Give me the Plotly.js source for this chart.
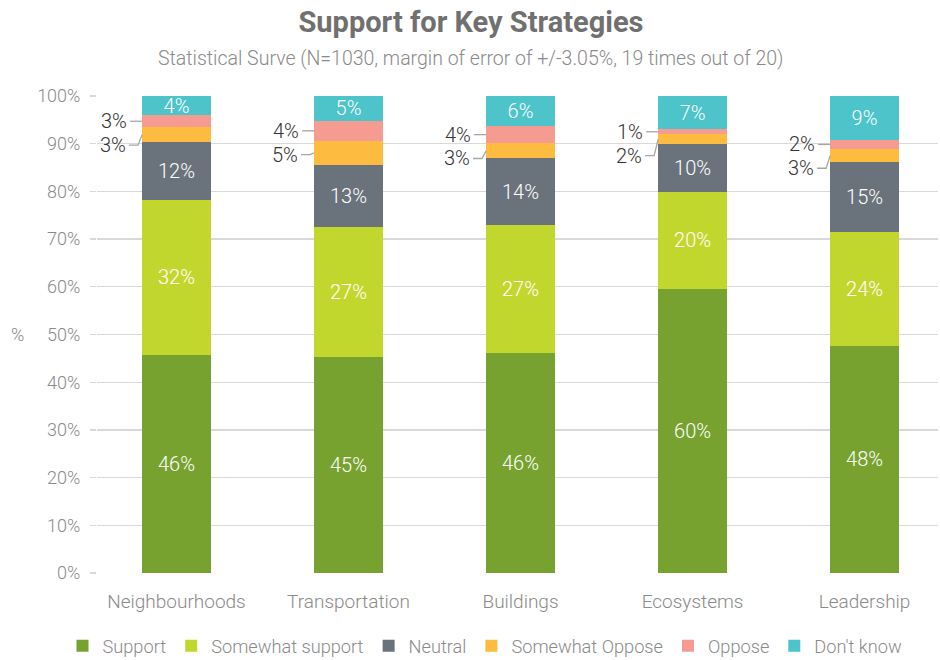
<!DOCTYPE html>
<html>
<head>
<meta charset="utf-8">
<script src="https://cdn.plot.ly/plotly-3.0.1.min.js"></script>
<style>html,body{margin:0;padding:0;background:#fff;}#chart{width:940px;height:660px;}</style>
</head>
<body>
<div id="chart"></div>
<script>
const categories = ['Neighbourhoods', 'Transportation', 'Buildings', 'Ecosystems', 'Leadership'];
const seriesNames = ['Support', 'Somewhat support', 'Neutral', 'Somewhat Oppose', 'Oppose', "Don't know"];
const support = [45.8, 45.3, 46.1, 59.6, 47.6];
const somewhatSupport = [32.4, 27.2, 26.9, 20.3, 23.9];
const neutral = [12.2, 13.1, 13.9, 10.0, 14.6];
const somewhatOppose = [3.0, 5.0, 3.2, 2.1, 2.8];
const oppose = [2.6, 4.2, 3.6, 1.0, 1.9];
const dontKnow = [4.0, 5.2, 6.3, 7.0, 9.2];
const yTickVals = [0, 10, 20, 30, 40, 50, 60, 70, 80, 90, 100];
const yTickText = ['0%', '10%', '20%', '30%', '40%', '50%', '60%', '70%', '80%', '90%', '100%'];

const colors = ['#78a22f', '#c2d72e', '#6a737b', '#fdbb3f', '#f59b91', '#4dc3ca'];
const seriesValues = [support, somewhatSupport, neutral, somewhatOppose, oppose, dontKnow];
const outsideLabelled = [false, false, false, true, true, false];

const FONT = 'Roboto, "Liberation Sans", Arial, sans-serif';
const xIdx = categories.map((c, i) => i);
const halfBar = 0.2;

const traces = seriesValues.map((vals, s) => ({
  type: 'bar',
  name: seriesNames[s],
  x: xIdx,
  y: vals,
  marker: {color: colors[s], line: {width: 0}},
  texttemplate: outsideLabelled[s] ? '' : '%{y:.0f}%',
  textposition: outsideLabelled[s] ? 'none' : 'inside',
  insidetextanchor: 'middle',
  textangle: 0,
  insidetextfont: {color: '#ffffff', size: 20, family: FONT, weight: 300},
  hoverinfo: 'name+y'
}));

// leader-line labels for the two small segments
const annotations = [];
const shapes = [];
const lineColor = '#a6a6a6';
categories.forEach((c, i) => {
  const base = support[i] + somewhatSupport[i] + neutral[i];
  const soMid = base + somewhatOppose[i] / 2;
  const opMid = base + somewhatOppose[i] + oppose[i] / 2;
  const soLabelY = Math.min(soMid, opMid - 5.0);
  const left = i - halfBar;
  annotations.push({
    x: left, y: opMid, xref: 'x', yref: 'y', xanchor: 'right', yanchor: 'middle',
    xshift: -13, showarrow: false, text: Math.round(oppose[i]) + '%',
    font: {color: '#333333', size: 20, family: FONT, weight: 300}
  });
  annotations.push({
    x: left, y: soLabelY, xref: 'x', yref: 'y', xanchor: 'right', yanchor: 'middle',
    xshift: -14, showarrow: false, text: Math.round(somewhatOppose[i]) + '%',
    font: {color: '#333333', size: 20, family: FONT, weight: 300}
  });
  shapes.push({
    type: 'path', xref: 'x', yref: 'y', xsizemode: 'pixel', xanchor: left,
    path: 'M-12,' + opMid + ' L0,' + opMid,
    line: {color: lineColor, width: 1.3}
  });
  shapes.push({
    type: 'path', xref: 'x', yref: 'y', xsizemode: 'pixel', xanchor: left,
    path: 'M-13,' + soLabelY + ' L-4,' + soLabelY + ' L0,' + soMid,
    line: {color: lineColor, width: 1.3}
  });
});

annotations.push({
  xref: 'paper', yref: 'paper', x: 0.4447, y: 1.0776, xanchor: 'center', yanchor: 'middle',
  showarrow: false, text: 'Statistical Surve (N=1030, margin of error of +/-3.05%, 19 times out of 20)',
  font: {color: '#8a8a8a', size: 19.5, family: FONT, weight: 300}
});
annotations.push({
  xref: 'paper', yref: 'paper', x: -0.0951, y: 0.5, xanchor: 'center', yanchor: 'middle',
  showarrow: false, text: '%',
  font: {color: '#8a8a8a', size: 18, family: FONT, weight: 300}
});

const layout = {
  width: 940, height: 660,
  margin: {l: 97, r: 2, t: 96, b: 87},
  paper_bgcolor: '#ffffff', plot_bgcolor: '#ffffff',
  barmode: 'stack', bargap: 0.6,
  font: {family: FONT, color: '#8a8a8a', weight: 300},
  title: {
    text: '<b>Support for Key Strategies</b>',
    font: {size: 29, color: '#707070', family: FONT},
    x: 471 / 940, xref: 'container', xanchor: 'center',
    y: 1 - 22 / 660, yref: 'container', yanchor: 'middle'
  },
  xaxis: {
    type: 'linear', range: [-0.462, 4.427], tickvals: xIdx, ticktext: categories,
    showgrid: false, zeroline: false, ticks: '', showline: false,
    tickfont: {size: 19, color: '#8a8a8a', family: FONT, weight: 300},
    ticklabelstandoff: 15, fixedrange: true
  },
  yaxis: {
    range: [0, 100], tickvals: yTickVals, ticktext: yTickText,
    showgrid: true, gridcolor: '#d9d9d9', gridwidth: 1.3, zeroline: false,
    ticks: 'outside', ticklen: 6, tickcolor: '#d9d9d9', tickwidth: 1.3,
    ticklabelstandoff: 6,
    tickfont: {size: 18, color: '#8a8a8a', family: FONT, weight: 300},
    fixedrange: true
  },
  showlegend: true,
  legend: {
    orientation: 'h', traceorder: 'normal',
    xref: 'container', x: 485 / 940, xanchor: 'center',
    yref: 'container', y: 1 - 646 / 660, yanchor: 'middle',
    font: {size: 18.2, color: '#8a8a8a', family: FONT, weight: 300},
    itemwidth: 30, itemclick: false, itemdoubleclick: false
  },
  uniformtext: {minsize: 20, mode: 'show'},
  annotations: annotations,
  shapes: shapes
};

Plotly.newPlot('chart', traces, layout, {displayModeBar: false, staticPlot: true});
</script>
</body>
</html>
